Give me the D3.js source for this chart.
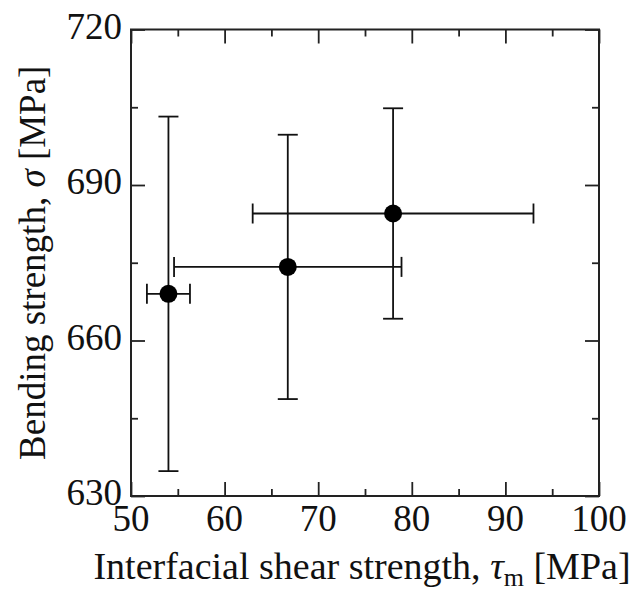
<!DOCTYPE html>
<html>
<head>
<meta charset="utf-8">
<script src="https://cdn.jsdelivr.net/npm/d3@7"></script>
<style>
  body { margin: 0; background: #fff; }
  svg text { font-family: "Liberation Serif", "DejaVu Serif", serif; fill: #111; }
</style>
</head>
<body>
<div id="chart"></div>
<script>
// data
const shear = [54.0, 66.75, 78.0]        // tau_m [MPa]
const shearErr = [2.3, 12.15, 15.0]
const bending = [669.0, 674.2, 684.5]    // sigma [MPa]
const bendingErr = [34.2, 25.5, 20.3]
const xMajor = [50, 60, 70, 80, 90, 100]
const xMinor = [55, 65, 75, 85, 95]
const yMajor = [630, 660, 690, 720]
const yMinor = [645, 675, 705]

const W = 641, H = 592
const pLeft = 131, pRight = 599, pTop = 29.5, pBottom = 496

let svg = d3.select("#chart").append("svg")
    .attr("width", W)
    .attr("height", H)

let x = d3.scaleLinear().domain([50, 100]).range([pLeft, pRight])
let y = d3.scaleLinear().domain([630, 720]).range([pBottom, pTop])

// ticks point inward on all four sides
function ticks(axis, vals, size, transform) {
    svg.append("g")
        .attr("transform", transform)
        .call(axis.tickValues(vals).tickSizeInner(-size).tickSizeOuter(0).tickFormat(""))
        .call(g => g.select(".domain").remove())
        .call(g => g.selectAll("line").attr("stroke", "#222").attr("stroke-width", 1.8))
}
ticks(d3.axisBottom(x), xMajor, 14, `translate(0,${pBottom})`)
ticks(d3.axisBottom(x), xMinor, 7, `translate(0,${pBottom})`)
ticks(d3.axisTop(x), xMajor, 14, `translate(0,${pTop})`)
ticks(d3.axisTop(x), xMinor, 7, `translate(0,${pTop})`)
ticks(d3.axisLeft(y), yMajor, 14, `translate(${pLeft},0)`)
ticks(d3.axisLeft(y), yMinor, 7, `translate(${pLeft},0)`)
ticks(d3.axisRight(y), yMajor, 14, `translate(${pRight},0)`)
ticks(d3.axisRight(y), yMinor, 7, `translate(${pRight},0)`)

// frame
svg.append("rect")
    .attr("x", pLeft).attr("y", pTop)
    .attr("width", pRight - pLeft).attr("height", pBottom - pTop)
    .attr("fill", "none").attr("stroke", "#222").attr("stroke-width", 2)

// tick labels
svg.selectAll(".xl").data(xMajor).join("text")
    .attr("x", d => x(d))
    .attr("y", pBottom + 35)
    .attr("text-anchor", "middle")
    .attr("font-size", 37)
    .text(d => d)
svg.selectAll(".yl").data(yMajor).join("text")
    .attr("x", pLeft - 9)
    .attr("y", d => y(d) + 9)
    .attr("text-anchor", "end")
    .attr("font-size", 37)
    .text(d => d)

// error bars
const cap = 10
let pts = shear.map((s, i) => ({x: s, xe: shearErr[i], y: bending[i], ye: bendingErr[i]}))
let bars = svg.append("g").attr("stroke", "#111").attr("stroke-width", 1.8)
pts.forEach(p => {
    bars.append("line")
        .attr("x1", x(p.x)).attr("x2", x(p.x))
        .attr("y1", y(p.y - p.ye)).attr("y2", y(p.y + p.ye))
    bars.append("line")
        .attr("x1", x(p.x) - cap).attr("x2", x(p.x) + cap)
        .attr("y1", y(p.y - p.ye)).attr("y2", y(p.y - p.ye))
    bars.append("line")
        .attr("x1", x(p.x) - cap).attr("x2", x(p.x) + cap)
        .attr("y1", y(p.y + p.ye)).attr("y2", y(p.y + p.ye))
    bars.append("line")
        .attr("x1", x(p.x - p.xe)).attr("x2", x(p.x + p.xe))
        .attr("y1", y(p.y)).attr("y2", y(p.y))
    bars.append("line")
        .attr("x1", x(p.x - p.xe)).attr("x2", x(p.x - p.xe))
        .attr("y1", y(p.y) - cap).attr("y2", y(p.y) + cap)
    bars.append("line")
        .attr("x1", x(p.x + p.xe)).attr("x2", x(p.x + p.xe))
        .attr("y1", y(p.y) - cap).attr("y2", y(p.y) + cap)
})

svg.selectAll(".pt").data(pts).join("circle")
    .attr("cx", d => x(d.x))
    .attr("cy", d => y(d.y))
    .attr("r", 9)
    .attr("fill", "#000")

// axis titles
let xt = svg.append("text")
    .attr("x", 362)
    .attr("y", 579)
    .attr("text-anchor", "middle")
    .attr("font-size", 38)
xt.append("tspan").text("Interfacial shear strength, ")
xt.append("tspan").attr("font-style", "italic").text("τ")
xt.append("tspan").attr("font-size", 26).attr("dy", 7).text("m")
xt.append("tspan").attr("dy", -7).text(" [MPa]")

let yt = svg.append("text")
    .attr("transform", `translate(45,${(pTop + pBottom) / 2}) rotate(-90)`)
    .attr("text-anchor", "middle")
    .attr("font-size", 37)
yt.append("tspan").text("Bending strength, ")
yt.append("tspan").attr("font-style", "italic").text("σ")
yt.append("tspan").text(" [MPa]")
</script>
</body>
</html>
